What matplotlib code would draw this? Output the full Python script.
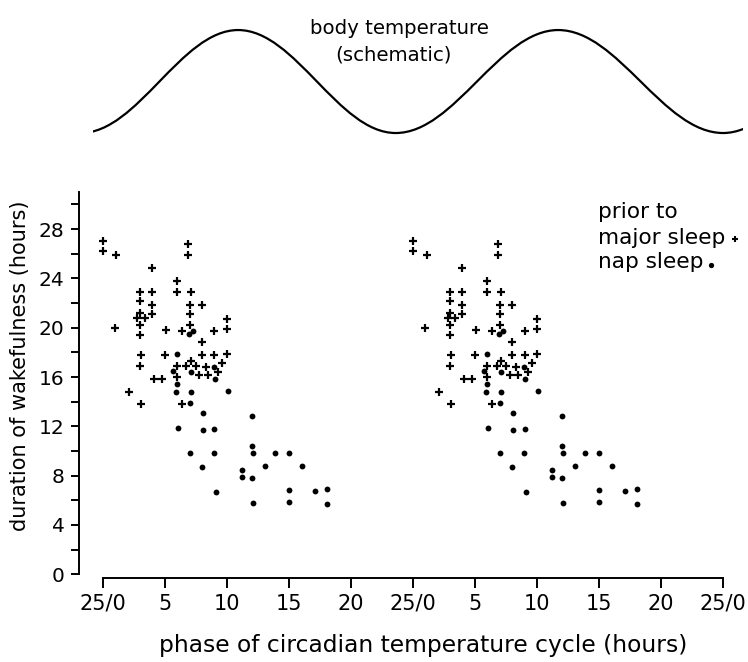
import numpy as np
import matplotlib
matplotlib.use('Agg')
import matplotlib.pyplot as plt
from matplotlib.path import Path
from matplotlib.patches import PathPatch
from matplotlib.lines import Line2D

# Phase of circadian temperature cycle (h) vs. duration of wakefulness (h), one cycle.
# The chart is double plotted: the same cycle is drawn again shifted by one period.
major_phase = [0.0, 0.0, 1.1, 4.0, 3.0, 4.0, 3.0, 4.0, 4.0, 3.0, 2.8, 3.4, 3.0, 3.0,
               1.0, 3.05, 3.0, 2.1, 3.05, 4.1, 4.8, 5.0, 5.1, 6.0, 6.0, 6.9, 6.9, 7.1,
               7.0, 7.0, 7.0, 6.4, 8.0, 8.0, 8.0, 9.0, 9.0, 10.0, 10.0, 10.0, 9.6, 6.0,
               6.0, 7.1, 6.75, 7.5, 6.35, 7.8, 8.3, 8.5, 9.3]
major_wake = [27.0, 26.2, 25.9, 24.8, 22.9, 22.9, 22.2, 21.8, 21.1, 21.2, 20.8, 20.8, 20.2, 19.4,
              20.0, 17.8, 16.9, 14.8, 13.8, 15.8, 15.8, 17.8, 19.8, 23.8, 22.9, 26.8, 25.9, 22.9,
              21.8, 21.1, 20.2, 19.7, 21.8, 18.8, 17.8, 17.8, 19.7, 20.7, 19.9, 17.9, 17.1, 16.9,
              16.0, 17.3, 16.9, 16.9, 13.8, 16.2, 16.8, 16.2, 16.4]
nap_phase = [6.95, 7.3, 6.0, 5.7, 6.0, 5.9, 7.1, 7.1, 7.0, 8.95, 9.05, 10.1, 8.1, 12.0,
             6.05, 8.1, 9.0, 12.0, 12.1, 13.9, 15.0, 7.05, 8.95, 8.0, 11.2, 11.2, 12.0, 13.1,
             16.05, 9.1, 15.0, 17.1, 18.05, 12.1, 15.0, 18.1]
nap_wake = [19.5, 19.7, 17.9, 16.5, 15.4, 14.8, 16.4, 14.8, 13.9, 16.8, 15.8, 14.9, 13.1, 12.8,
            11.9, 11.7, 11.8, 10.4, 9.85, 9.8, 9.8, 9.85, 9.8, 8.7, 8.45, 7.85, 7.8, 8.8,
            8.8, 6.7, 6.85, 6.75, 6.95, 5.8, 5.9, 5.7]
period = 25

# schematic body temperature: troughs and peaks (phase in h, relative level)
temp_ext_phase = [-1.8, 10.9, 23.6, 36.7, 50.0, 62.8]
temp_ext_level = [-1, 1, -1, 1, -1, 1]

xtick_pos = [0, 5, 10, 15, 20, 25, 30, 35, 40, 45, 50]
xtick_labels = ['25/0', '5', '10', '15', '20', '25/0', '5', '10', '15', '20', '25/0']
ytick_major = [0, 4, 8, 12, 16, 20, 24, 28]
ytick_minor = [2, 6, 10, 14, 18, 22, 26, 30]

plt.rcParams['font.family'] = ['DejaVu Sans']

fig = plt.figure(figsize=(7.48, 6.62), dpi=100)

# Main scatter axes
ax = fig.add_axes([0.1050, 0.1325, 0.8616, 0.5774])
for shift in (0, period):
    ax.plot(np.array(major_phase) + shift, major_wake, ls='none', marker='+',
            ms=5.5, mew=1.6, color='black')
    ax.plot(np.array(nap_phase) + shift, nap_wake, ls='none', marker='o',
            ms=4.2, mew=0, color='black')

ax.set_xlim(-1.95, 50)
ax.set_ylim(0, 31)
for s in ('top', 'right'):
    ax.spines[s].set_visible(False)
ax.spines['bottom'].set_position(('outward', 3))
ax.spines['bottom'].set_bounds(0, 50)
ax.spines['left'].set_bounds(0, 31)
for s in ('bottom', 'left'):
    ax.spines[s].set_linewidth(1.4)

ax.set_xticks(xtick_pos)
ax.set_xticklabels(xtick_labels)
ax.set_yticks(ytick_major)
ax.set_yticks(ytick_minor, minor=True)
ax.tick_params(axis='both', which='both', direction='out', width=1.4)
ax.tick_params(axis='x', length=7, pad=4, labelsize=15)
ax.tick_params(axis='y', which='both', length=6, pad=4, labelsize=14.5)

fig.text(0.0267, 0.447, 'duration of wakefulness (hours)', rotation=90,
         ha='center', va='center', fontsize=15)
fig.text(0.5655, 0.0250, 'phase of circadian temperature cycle (hours)',
         ha='center', va='center', fontsize=16.8)

# legend written as text, symbol after the words
fig.text(0.7995, 0.6707, 'prior to', ha='left', va='baseline', fontsize=15.6)
fig.text(0.7995, 0.6314, 'major sleep', ha='left', va='baseline', fontsize=15.6)
fig.text(0.7995, 0.5952, 'nap sleep', ha='left', va='baseline', fontsize=15.6)
fig.add_artist(Line2D([0.983], [1 - 239.3 / 662], marker='+', ms=5, mew=1.5,
                      color='black', transform=fig.transFigure))
fig.add_artist(Line2D([0.951], [1 - 265 / 662], marker='o', ms=3.8, mew=0,
                      color='black', transform=fig.transFigure))

# Schematic temperature curve, drawn as half waves between extremes
tax = fig.add_axes([0.1243, 0.7913, 0.8690, 0.1711])
verts = [(temp_ext_phase[0], temp_ext_level[0])]
codes = [Path.MOVETO]
for i in range(len(temp_ext_phase) - 1):
    x0, y0 = temp_ext_phase[i], temp_ext_level[i]
    x1, y1 = temp_ext_phase[i + 1], temp_ext_level[i + 1]
    a = 0.3643 * (x1 - x0)
    verts += [(x0 + a, y0), (x1 - a, y1), (x1, y1)]
    codes += [Path.CURVE4] * 3
tax.add_patch(PathPatch(Path(verts, codes), fill=False, lw=1.6, ec='black'))
tax.set_xlim(-0.806, 51.6)
tax.set_ylim(-1.1, 1.1)
tax.axis('off')

fig.text(0.5335, 0.9577, 'body temperature', ha='center', va='center', fontsize=14.2)
fig.text(0.5255, 0.9169, '(schematic)', ha='center', va='center', fontsize=14.2)

fig.savefig('out.png', dpi=100)
